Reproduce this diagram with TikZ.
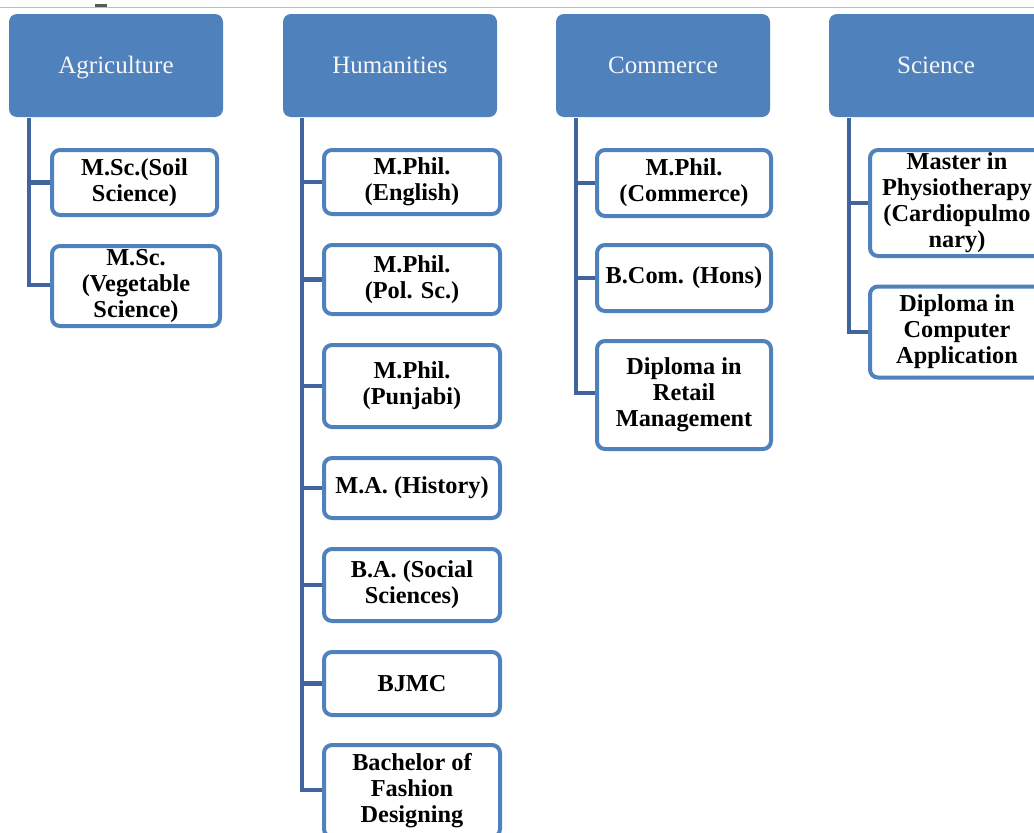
\documentclass[tikz,border=0pt]{standalone}
\usepackage{fontspec}
\setmainfont{Liberation Serif}
\definecolor{hdr}{HTML}{4F81BD}
\definecolor{conn}{HTML}{41659A}
\definecolor{topline}{HTML}{A9C1E0}
\tikzset{
  header/.style={fill=hdr, draw=none, rounded corners=8pt, minimum width=214pt, minimum height=103pt,
    inner sep=0pt, text height=21pt, text depth=5pt, text=white!94!gray, font=\fontsize{25}{27}\selectfont},
  item/.style={draw=hdr, line width=4pt, fill=white, rounded corners=8pt, inner sep=0pt,
    align=center, font=\fontsize{24.3}{26}\selectfont\bfseries},
  link/.style={draw=conn, line width=4.5pt}
}
\begin{document}
\begin{tikzpicture}[x=1pt,y=-1pt]
\useasboundingbox (0,0) rectangle (1034,833);
\clip (0,0) rectangle (1034,833);
\fill[white] (0,0) rectangle (1034,833);
\draw[topline, line width=1.5pt] (0,7.5) -- (1034,7.5);
\fill[gray!70!black] (95,4) rectangle (107,7);

% headers
\node[header] (agr) at (116,65.5) {Agriculture};
\node[header] (hum) at (390,65.5) {Humanities};
\node[header] (com) at (663,65.5) {Commerce};
\node[header] (sci) at (936,65.5) {Science};

% trunk coordinates
\coordinate (agrtop) at (29,118);
\coordinate (agrbot) at (29,285);
\coordinate (humtop) at (302,118);
\coordinate (humbot) at (302,790);
\coordinate (comtop) at (576,118);
\coordinate (combot) at (576,393);
\coordinate (scitop) at (849,118);
\coordinate (scibot) at (849,332);

% Agriculture items
\node[item, minimum width=165pt, minimum height=65pt] (a1) at (134.5,182.5) {M.Sc.(Soil\\Science)};
\node[item, minimum width=168pt, minimum height=80pt] (a2) at (136,286) {M.Sc.\\(Vegetable\\Science)};

% Humanities items
\node[item, minimum width=176pt, minimum height=64pt] (h1) at (412,182) {M.Phil.\\(English)};
\node[item, minimum width=176pt, minimum height=69pt] (h2) at (412,279.5) {M.Phil.\\(Pol. Sc.)};
\node[item, minimum width=176pt, minimum height=82pt] (h3) at (412,386) {M.Phil.\\(Punjabi)};
\node[item, minimum width=176pt, minimum height=60pt] (h4) at (412,488) {M.A. (History)};
\node[item, minimum width=176pt, minimum height=72pt] (h5) at (412,585) {B.A. (Social\\Sciences)};
\node[item, minimum width=176pt, minimum height=63pt] (h6) at (412,683.5) {BJMC};
\node[item, minimum width=176pt, minimum height=92pt] (h7) at (412,791) {Bachelor of\\Fashion\\Designing};

% Commerce items
\node[item, minimum width=174pt, minimum height=66pt] (c1) at (684,183) {M.Phil.\\(Commerce)};
\node[item, minimum width=174pt, minimum height=66pt] (c2) at (684,278) {B.Com. (Hons)};
\node[item, minimum width=174pt, minimum height=108pt] (c3) at (684,395) {Diploma in\\Retail\\Management};

% Science items
\node[item, minimum width=174pt, minimum height=106pt] (s1) at (957,203) {Master in\\Physiotherapy\\(Cardiopulmo\\nary)};
\node[item, minimum width=174pt, minimum height=91pt] (s2) at (957,332) {Diploma in\\Computer\\Application};

% connectors
\draw[link] (agrtop) -- (agrbot) -- (agrbot -| a2.west);
\draw[link] (agrtop |- a1.west) -- (a1.west);
\draw[link] (humtop) -- (humbot) -- (humbot -| h7.west);
\foreach \n in {h1,h2,h3,h4,h5,h6} {\draw[link] (humtop |- \n.west) -- (\n.west);}
\draw[link] (comtop) -- (combot) -- (combot -| c3.west);
\foreach \n in {c1,c2} {\draw[link] (comtop |- \n.west) -- (\n.west);}
\draw[link] (scitop) -- (scibot) -- (scibot -| s2.west);
\draw[link] (scitop |- s1.west) -- (s1.west);
\end{tikzpicture}
\end{document}
